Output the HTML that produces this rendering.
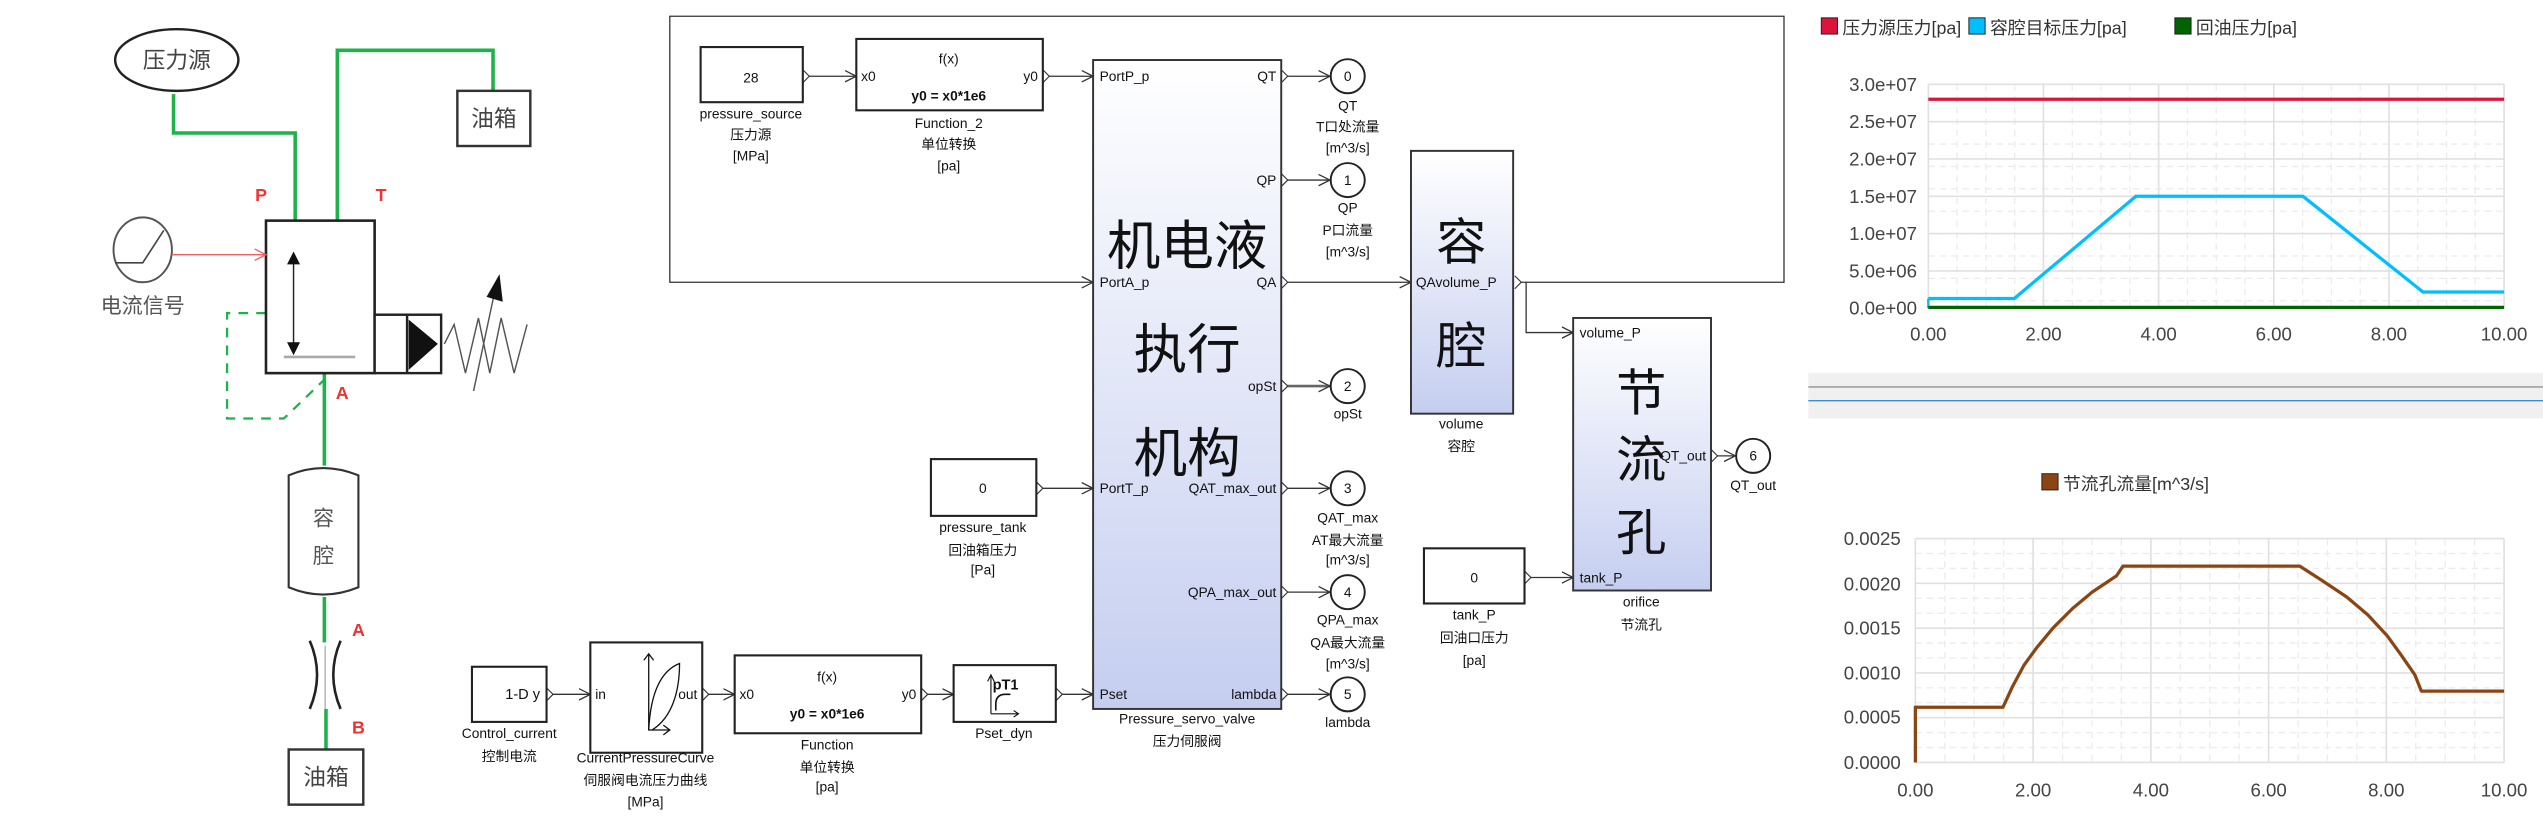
<!DOCTYPE html>
<html><head><meta charset="utf-8"><style>
html,body{margin:0;padding:0;background:#fff;overflow:hidden;}
svg{display:block;}
text{font-family:"Liberation Sans","Noto Sans CJK SC",sans-serif;}
.n{font-family:"Liberation Sans Narrow","Liberation Sans","Noto Sans CJK SC",sans-serif;font-size:8.5px;fill:#111;}
.c{text-anchor:middle;}
.e{text-anchor:end;}
.ax{font-size:11.5px;fill:#444;}
</style></head><body>
<svg width="2543" height="816" viewBox="0 0 1568 503" preserveAspectRatio="none" xmlns="http://www.w3.org/2000/svg">
<defs>
<linearGradient id="g" x1="0" y1="0" x2="0" y2="1"><stop offset="0" stop-color="#ffffff"/><stop offset="1" stop-color="#c5cef0"/></linearGradient>
<marker id="ar" markerWidth="8" markerHeight="8" refX="7" refY="4" orient="auto" markerUnits="userSpaceOnUse"><path d="M0,0.5 L7,4 L0,7.5" fill="none" stroke="#333" stroke-width="0.8"/></marker>
<marker id="ra" markerWidth="8" markerHeight="8" refX="7" refY="4" orient="auto" markerUnits="userSpaceOnUse"><path d="M0,0.5 L7,4 L0,7.5" fill="none" stroke="#f06060" stroke-width="0.8"/></marker>
</defs>
<rect width="1568" height="503" fill="#fff"/>

<!-- ===== LEFT SCHEMATIC ===== -->
<g stroke="#1db24a" stroke-width="2.2" fill="none">
<path d="M107,58 V82 H182 V136"/>
<path d="M208,136 V31 H304 V56"/>
<path d="M200,230 V287"/>
<path d="M200,368 V396"/>
<path d="M201,437 V462"/>
</g>
<path d="M164,193 H140 V258 H175 L200,234" stroke="#1db24a" stroke-width="1.4" stroke-dasharray="6,5" fill="none"/>
<ellipse cx="109" cy="37" rx="38" ry="19" fill="#fff" stroke="#222" stroke-width="1.5"/>
<text x="109" y="42" class="c" font-size="14" fill="#444">压力源</text>
<rect x="282" y="56" width="45" height="34" fill="#fff" stroke="#333" stroke-width="1.5"/>
<text x="304.5" y="78" class="c" font-size="14" fill="#444">油箱</text>
<text x="161" y="124" class="c" font-size="11" fill="#e33" font-family="Liberation Serif" font-weight="bold">P</text>
<text x="235" y="124" class="c" font-size="11" fill="#e33" font-family="Liberation Serif" font-weight="bold">T</text>
<rect x="164" y="136" width="67" height="94" fill="#fff" stroke="#222" stroke-width="1.6"/>
<line x1="181" y1="159" x2="181" y2="215" stroke="#222" stroke-width="0.9"/>
<path d="M177,163 L181,155 L185,163 Z M177,211 L181,219 L185,211 Z" fill="#111"/>
<line x1="175" y1="220" x2="219" y2="220" stroke="#aaa" stroke-width="1.6"/>
<ellipse cx="88" cy="154" rx="18" ry="20" fill="#fff" stroke="#555" stroke-width="1.2"/>
<path d="M71,162 H88 L101,142" fill="none" stroke="#444" stroke-width="1"/>
<line x1="106" y1="157" x2="164" y2="157" stroke="#f06060" stroke-width="0.9" marker-end="url(#ra)"/>
<text x="88" y="193" class="c" font-size="13" fill="#555">电流信号</text>
<rect x="231" y="194" width="41" height="36" fill="#fff" stroke="#222" stroke-width="1.5"/>
<line x1="251" y1="194" x2="251" y2="230" stroke="#222" stroke-width="1.5"/>
<path d="M252,197 L270,212 L252,228 Z" fill="#111"/>
<path d="M274,212 L280,200 L287,230 L295,196 L302,230 L309,196 L317,230 L325,200" fill="none" stroke="#555" stroke-width="0.9"/>
<line x1="292" y1="241" x2="305" y2="180" stroke="#555" stroke-width="0.9"/>
<path d="M300,183 L308,169 L310,186 Z" fill="#111"/>
<text x="211" y="246" class="c" font-size="11" fill="#e33" font-family="Liberation Serif" font-weight="bold">A</text>
<path d="M178,293 Q199,284 221,293 V362 Q199,371 178,362 Z" fill="#fff" stroke="#333" stroke-width="1.3"/>
<text x="199.5" y="324" class="c" font-size="13" fill="#555">容</text>
<text x="199.5" y="347" class="c" font-size="13" fill="#555">腔</text>
<path d="M191,395 Q200,416 191,437 M210,395 Q201,416 210,437" fill="none" stroke="#222" stroke-width="1.6"/>
<line x1="200.5" y1="398" x2="200.5" y2="437" stroke="#bbb" stroke-width="1"/>
<text x="221" y="392" class="c" font-size="11" fill="#e33" font-family="Liberation Serif" font-weight="bold">A</text>
<text x="221" y="452" class="c" font-size="11" fill="#e33" font-family="Liberation Serif" font-weight="bold">B</text>
<rect x="178" y="462" width="46" height="34" fill="#fff" stroke="#333" stroke-width="1.5"/>
<text x="201" y="484" class="c" font-size="14" fill="#444">油箱</text>

<!-- ===== MIDDLE BLOCK DIAGRAM ===== -->
<g stroke="#333" stroke-width="0.8" fill="none">
<path d="M934,174 H1100 V10 H413 V174 H674" marker-end="url(#ar)"/>
<path d="M941,174 V205 H970" marker-end="url(#ar)"/>
<line x1="495" y1="47" x2="528" y2="47" marker-end="url(#ar)"/>
<line x1="643" y1="47" x2="674" y2="47" marker-end="url(#ar)"/>
<line x1="639" y1="301" x2="674" y2="301" marker-end="url(#ar)"/>
<line x1="790" y1="174" x2="870" y2="174" marker-end="url(#ar)"/>
<line x1="940" y1="356" x2="970" y2="356" marker-end="url(#ar)"/>
<line x1="1055" y1="281" x2="1070" y2="281" marker-end="url(#ar)"/>
<line x1="790" y1="47" x2="820" y2="47" marker-end="url(#ar)"/>
<line x1="790" y1="111" x2="820" y2="111" marker-end="url(#ar)"/>
<line x1="790" y1="238" x2="820" y2="238" marker-end="url(#ar)" stroke-width="1.6" stroke="#666"/>
<line x1="790" y1="301" x2="820" y2="301" marker-end="url(#ar)"/>
<line x1="790" y1="365" x2="820" y2="365" marker-end="url(#ar)"/>
<line x1="790" y1="428" x2="820" y2="428" marker-end="url(#ar)"/>
<line x1="337" y1="428" x2="364" y2="428" marker-end="url(#ar)"/>
<line x1="433" y1="428" x2="453" y2="428" marker-end="url(#ar)"/>
<line x1="568" y1="428" x2="588" y2="428" marker-end="url(#ar)"/>
<line x1="651" y1="428" x2="674" y2="428" marker-end="url(#ar)"/>
</g>
<g stroke="#333" stroke-width="0.7" fill="#fff">
<path d="M495,43 l4,4 l-4,4"/><path d="M643,43 l4,4 l-4,4"/><path d="M639,297 l4,4 l-4,4"/>
<path d="M934,170 l4,4 l-4,4"/><path d="M940,352 l4,4 l-4,4"/><path d="M1055,277 l4,4 l-4,4"/>
<path d="M790,43 l4,4 l-4,4"/><path d="M790,107 l4,4 l-4,4"/><path d="M790,170 l4,4 l-4,4"/>
<path d="M790,234 l4,4 l-4,4"/><path d="M790,297 l4,4 l-4,4"/><path d="M790,361 l4,4 l-4,4"/><path d="M790,424 l4,4 l-4,4"/>
<path d="M337,424 l4,4 l-4,4"/><path d="M433,424 l4,4 l-4,4"/><path d="M568,424 l4,4 l-4,4"/><path d="M651,424 l4,4 l-4,4"/>
</g>

<rect x="432" y="29" width="63" height="34" fill="#fff" stroke="#222" stroke-width="1.3"/>
<text x="463" y="51" class="n c" font-size="10">28</text>
<text x="463" y="73" class="n c">pressure_source</text>
<text x="463" y="86" class="n c">压力源</text>
<text x="463" y="99" class="n c">[MPa]</text>
<rect x="528" y="24" width="115" height="44" fill="#fff" stroke="#222" stroke-width="1.3"/>
<text x="585" y="39" class="n c">f(x)</text>
<text x="531" y="50" class="n">x0</text>
<text x="640" y="50" class="n e">y0</text>
<text x="585" y="62" class="n c" font-weight="bold">y0 = x0*1e6</text>
<text x="585" y="79" class="n c">Function_2</text>
<text x="585" y="92" class="n c">单位转换</text>
<text x="585" y="105" class="n c">[pa]</text>

<rect x="674" y="37" width="116" height="400" fill="url(#g)" stroke="#333" stroke-width="1.2"/>
<text x="732" y="163" class="c" font-size="33" fill="#111">机电液</text>
<text x="732" y="227" class="c" font-size="33" fill="#111">执行</text>
<text x="732" y="291" class="c" font-size="33" fill="#111">机构</text>
<text x="678" y="50" class="n">PortP_p</text>
<text x="678" y="177" class="n">PortA_p</text>
<text x="678" y="304" class="n">PortT_p</text>
<text x="678" y="431" class="n">Pset</text>
<text x="787" y="50" class="n e">QT</text>
<text x="787" y="114" class="n e">QP</text>
<text x="787" y="177" class="n e">QA</text>
<text x="787" y="241" class="n e">opSt</text>
<text x="787" y="304" class="n e">QAT_max_out</text>
<text x="787" y="368" class="n e">QPA_max_out</text>
<text x="787" y="431" class="n e">lambda</text>
<text x="732" y="446" class="n c">Pressure_servo_valve</text>
<text x="732" y="460" class="n c">压力伺服阀</text>

<g fill="#fff" stroke="#222" stroke-width="1.2">
<circle cx="831" cy="47" r="10.5"/><circle cx="831" cy="111" r="10.5"/><circle cx="831" cy="238" r="10.5"/>
<circle cx="831" cy="301" r="10.5"/><circle cx="831" cy="365" r="10.5"/><circle cx="831" cy="428" r="10.5"/>
<circle cx="1081" cy="281" r="10.5"/>
</g>
<text x="831" y="50" class="n c">0</text><text x="831" y="114" class="n c">1</text><text x="831" y="241" class="n c">2</text>
<text x="831" y="304" class="n c">3</text><text x="831" y="368" class="n c">4</text><text x="831" y="431" class="n c">5</text>
<text x="1081" y="284" class="n c">6</text>
<text x="831" y="68" class="n c">QT</text><text x="831" y="81" class="n c">T口处流量</text><text x="831" y="94" class="n c">[m^3/s]</text>
<text x="831" y="131" class="n c">QP</text><text x="831" y="145" class="n c">P口流量</text><text x="831" y="158" class="n c">[m^3/s]</text>
<text x="831" y="258" class="n c">opSt</text>
<text x="831" y="322" class="n c">QAT_max</text><text x="831" y="336" class="n c">AT最大流量</text><text x="831" y="348" class="n c">[m^3/s]</text>
<text x="831" y="385" class="n c">QPA_max</text><text x="831" y="399" class="n c">QA最大流量</text><text x="831" y="412" class="n c">[m^3/s]</text>
<text x="831" y="448" class="n c">lambda</text>
<text x="1081" y="302" class="n c">QT_out</text>

<rect x="870" y="93" width="63" height="162" fill="url(#g)" stroke="#333" stroke-width="1.2"/>
<text x="901" y="160" class="c" font-size="31" fill="#111">容</text>
<text x="901" y="224" class="c" font-size="31" fill="#111">腔</text>
<text x="873" y="177" class="n">QAvolume_P</text>
<text x="901" y="264" class="n c">volume</text>
<text x="901" y="278" class="n c">容腔</text>

<rect x="970" y="196" width="85" height="168" fill="url(#g)" stroke="#333" stroke-width="1.2"/>
<text x="1012" y="253" class="c" font-size="31" fill="#111">节</text>
<text x="1012" y="294" class="c" font-size="31" fill="#111">流</text>
<text x="1012" y="339" class="c" font-size="31" fill="#111">孔</text>
<text x="974" y="208" class="n">volume_P</text>
<text x="974" y="359" class="n">tank_P</text>
<text x="1052" y="284" class="n e">QT_out</text>
<text x="1012" y="374" class="n c">orifice</text>
<text x="1012" y="388" class="n c">节流孔</text>

<rect x="878" y="338" width="62" height="34" fill="#fff" stroke="#222" stroke-width="1.3"/>
<text x="909" y="359" class="n c">0</text>
<text x="909" y="382" class="n c">tank_P</text>
<text x="909" y="396" class="n c">回油口压力</text>
<text x="909" y="410" class="n c">[pa]</text>

<rect x="574" y="283" width="65" height="35" fill="#fff" stroke="#222" stroke-width="1.3"/>
<text x="606" y="304" class="n c">0</text>
<text x="606" y="328" class="n c">pressure_tank</text>
<text x="606" y="342" class="n c">回油箱压力</text>
<text x="606" y="354" class="n c">[Pa]</text>

<rect x="291" y="411" width="46" height="34" fill="#fff" stroke="#222" stroke-width="1.3"/>
<text x="333" y="431" class="e" font-size="9" fill="#111">1-D y</text>
<text x="314" y="455" class="c" font-size="8.5" fill="#111">Control_current</text>
<text x="314" y="469" class="c" font-size="8.5" fill="#111">控制电流</text>
<rect x="364" y="396" width="69" height="68" fill="#fff" stroke="#222" stroke-width="1.3"/>
<text x="367" y="431" font-size="8.5" fill="#111">in</text>
<text x="430" y="431" class="e" font-size="8.5" fill="#111">out</text>
<path d="M400,403 V450 H413 M397,407 L400,403 L403,407 M409,447 L413,450 L409,453" fill="none" stroke="#111" stroke-width="0.8"/>
<path d="M400,450 C401,430 406,414 419,409 C419,425 415,442 402,450" fill="none" stroke="#111" stroke-width="0.8"/>
<text x="398" y="470" class="c" font-size="8.5" fill="#111">CurrentPressureCurve</text>
<text x="398" y="484" class="c" font-size="8.5" fill="#111">伺服阀电流压力曲线</text>
<text x="398" y="497" class="c" font-size="8.5" fill="#111">[MPa]</text>
<rect x="453" y="404" width="115" height="48" fill="#fff" stroke="#222" stroke-width="1.3"/>
<text x="510" y="420" class="c" font-size="8.5" fill="#111">f(x)</text>
<text x="456" y="431" font-size="8.5" fill="#111">x0</text>
<text x="565" y="431" class="e" font-size="8.5" fill="#111">y0</text>
<text x="510" y="443" class="c" font-size="8.5" font-weight="bold" fill="#111">y0 = x0*1e6</text>
<text x="510" y="462" class="c n">Function</text>
<text x="510" y="476" class="c n">单位转换</text>
<text x="510" y="488" class="c n">[pa]</text>
<rect x="588" y="410" width="63" height="35" fill="#fff" stroke="#222" stroke-width="1.3"/>
<path d="M611,440 V417 M609,420 L611,416 L613,420 M611,440 H628 M625,438 L628,440 L625,442" fill="none" stroke="#111" stroke-width="0.7"/>
<path d="M614,438 V434 Q614,428 620,428 H623" fill="none" stroke="#111" stroke-width="1"/>
<text x="620" y="425" class="c" font-size="9" font-weight="bold" font-family="Liberation Serif" fill="#111">pT1</text>
<text x="619" y="455" class="c n">Pset_dyn</text>

<!-- ===== CHARTS ===== -->
<g font-size="11" fill="#333">
<rect x="1123" y="11" width="10" height="10" fill="#dc143c" stroke="#222" stroke-width="0.6"/>
<text x="1136" y="21">压力源压力[pa]</text>
<rect x="1214" y="11" width="10" height="10" fill="#00bfff" stroke="#222" stroke-width="0.6"/>
<text x="1227" y="21">容腔目标压力[pa]</text>
<rect x="1341" y="11" width="10" height="10" fill="#006400" stroke="#222" stroke-width="0.6"/>
<text x="1354" y="21">回油压力[pa]</text>
</g>
<g stroke="#ececec" stroke-width="0.8" stroke-dasharray="4,3">
<path d="M1189,61.2H1544M1189,75H1544M1189,88.8H1544M1189,102.6H1544M1189,116.4H1544M1189,130.2H1544M1189,144H1544M1189,157.8H1544M1189,171.6H1544M1189,185.4H1544"/>
<path d="M1206.75,52V190M1224.5,52V190M1242.25,52V190M1277.75,52V190M1295.5,52V190M1313.25,52V190M1348.75,52V190M1366.5,52V190M1384.25,52V190M1419.75,52V190M1437.5,52V190M1455.25,52V190M1490.75,52V190M1508.5,52V190M1526.25,52V190"/>
</g>
<g stroke="#e0e0e0" stroke-width="1">
<path d="M1189,52H1544M1189,75H1544M1189,98H1544M1189,121H1544M1189,144H1544M1189,167H1544"/>
<path d="M1189,52V190M1260,52V190M1331,52V190M1402,52V190M1473,52V190M1544,52V190"/>
</g>
<polyline points="1189,61.2 1544,61.2" fill="none" stroke="#dc143c" stroke-width="2"/>
<polyline points="1189,184 1242,184 1317,121 1420,121 1494,180 1544,180" fill="none" stroke="#00bfff" stroke-width="2"/>
<line x1="1189" y1="184" x2="1189" y2="190" stroke="#00bfff" stroke-width="1.5"/>
<line x1="1189" y1="189.5" x2="1544" y2="189.5" stroke="#006400" stroke-width="2"/>
<g class="ax" text-anchor="end">
<text x="1182" y="56">3.0e+07</text><text x="1182" y="79">2.5e+07</text><text x="1182" y="102">2.0e+07</text>
<text x="1182" y="125">1.5e+07</text><text x="1182" y="148">1.0e+07</text><text x="1182" y="171">5.0e+06</text><text x="1182" y="194">0.0e+00</text>
</g>
<g class="ax" text-anchor="middle">
<text x="1189" y="210">0.00</text><text x="1260" y="210">2.00</text><text x="1331" y="210">4.00</text>
<text x="1402" y="210">6.00</text><text x="1473" y="210">8.00</text><text x="1544" y="210">10.00</text>
</g>
<rect x="1115" y="230" width="453" height="28" fill="#f0f0f0"/>
<line x1="1115" y1="238.5" x2="1568" y2="238.5" stroke="#a0a0a0" stroke-width="1"/>
<line x1="1115" y1="247" x2="1568" y2="247" stroke="#3c8ad8" stroke-width="0.8"/>
<rect x="1259" y="292" width="10" height="10" fill="#8b4513" stroke="#222" stroke-width="0.6"/>
<text x="1272" y="302" font-size="11" fill="#333">节流孔流量[m^3/s]</text>
<g stroke="#ececec" stroke-width="0.8" stroke-dasharray="4,3">
<path d="M1181,341.2H1544M1181,350.4H1544M1181,368.8H1544M1181,378H1544M1181,396.4H1544M1181,405.6H1544M1181,424H1544M1181,433.2H1544M1181,451.6H1544M1181,460.8H1544"/>
<path d="M1199.15,332V470M1217.3,332V470M1235.45,332V470M1271.75,332V470M1289.9,332V470M1308,332V470M1344.35,332V470M1362.5,332V470M1380.65,332V470M1417,332V470M1435.1,332V470M1453.25,332V470M1489.55,332V470M1507.7,332V470M1525.85,332V470"/>
</g>
<g stroke="#e0e0e0" stroke-width="1">
<path d="M1181,332H1544M1181,359.6H1544M1181,387.2H1544M1181,414.8H1544M1181,442.4H1544M1181,470H1544"/>
<path d="M1181,332V470M1253.6,332V470M1326.2,332V470M1398.8,332V470M1471.4,332V470M1544,332V470"/>
</g>
<path d="M1181,470 V436 H1235 L1241,423 L1248,410 L1256,399 L1266,387 L1278,375 L1290,365 L1305,355 L1309,349 H1418 L1432,358 L1447,368 L1460,379 L1472,392 L1480,403 L1489,416 L1493,426 H1544" fill="none" stroke="#8b4513" stroke-width="2" stroke-linejoin="round"/>
<g class="ax" text-anchor="end">
<text x="1172" y="336">0.0025</text><text x="1172" y="364">0.0020</text><text x="1172" y="391">0.0015</text>
<text x="1172" y="419">0.0010</text><text x="1172" y="446">0.0005</text><text x="1172" y="474">0.0000</text>
</g>
<g class="ax" text-anchor="middle">
<text x="1181" y="491">0.00</text><text x="1253.6" y="491">2.00</text><text x="1326.2" y="491">4.00</text>
<text x="1398.8" y="491">6.00</text><text x="1471.4" y="491">8.00</text><text x="1544" y="491">10.00</text>
</g>
</svg>
</body></html>
